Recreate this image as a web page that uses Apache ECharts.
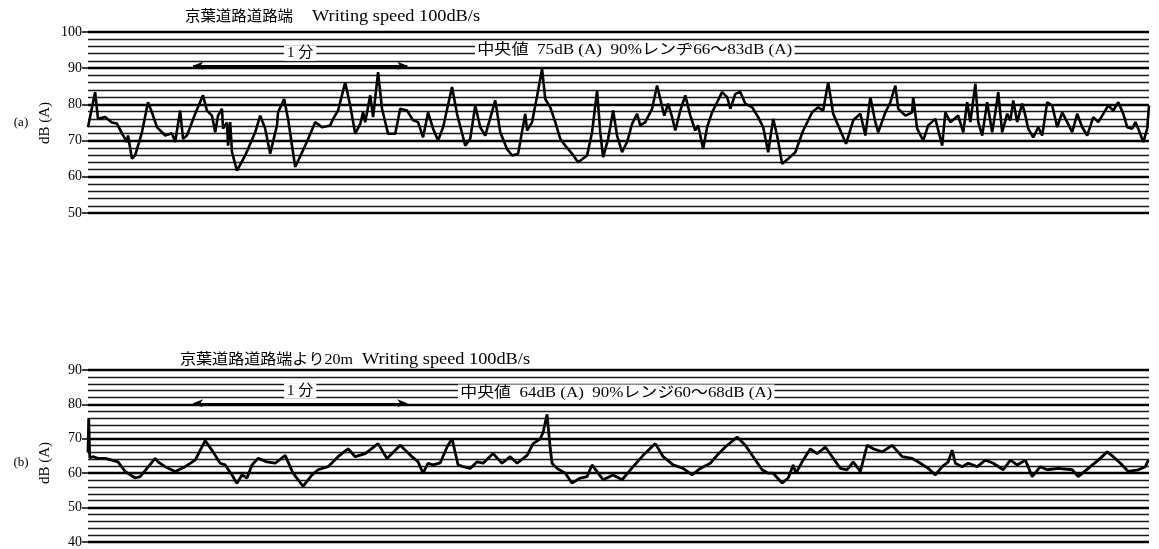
<!DOCTYPE html>
<html>
<head>
<meta charset="utf-8">
<script src="https://cdn.jsdelivr.net/npm/echarts@6/dist/echarts.min.js"></script>
<style>html,body{margin:0;padding:0;background:#fff;}#c{width:1159px;height:549px;}</style>
</head>
<body>
<div id="c"></div>
<script>
// ---- data (time in seconds, level in dB(A)) ----
const titleA = ['京葉道路道路端', 'Writing speed 100dB/s'];
const titleB = ['京葉道路道路端より20m', 'Writing speed 100dB/s'];
const noteA = '中央値  75dB (A)  90%レンヂ66〜83dB (A)';
const noteB = '中央値  64dB (A)  90%レンジ60〜68dB (A)';
const yTicksA = [50, 60, 70, 80, 90, 100];
const yTicksB = [40, 50, 60, 70, 80, 90];

const timeA = [0,2.0,2.8,4.8,6.7,8.1,9.5,10.9,11.2,12.3,13.2,15.1,16.8,17.9,19.3,21.6,23.5,24.4,25.8,26.6,27.7,30.0,32.2,33.3,34.7,35.6,36.4,37.5,37.8,38.9,39.2,39.8,40.3,41.7,44.0,46.8,48.2,49.6,51.0,52.9,53.2,54.9,56.0,58.0,60.8,63.6,65.5,67.8,68.6,70.0,72.0,73.4,74.8,76.2,77.0,77.6,79.0,79.8,81.2,82.3,84.0,86.0,87.4,89.3,91.0,92.4,93.8,95.2,96.6,98.0,99.4,101.9,103.3,105.6,107.0,108.4,109.8,111.2,114.0,115.4,117.3,118.7,120.4,122.4,122.9,124.3,125.2,126.0,127.1,128.0,129.4,130.8,132.2,133.6,135.5,137.2,139.7,141.1,142.5,143.4,144.2,145.6,147.0,148.1,149.5,150.9,152.3,153.7,154.6,156.0,157.9,159.3,160.2,161.3,162.4,163.5,164.4,165.8,167.2,168.6,170.0,170.8,172.2,173.3,174.7,176.1,177.5,178.9,179.8,181.2,182.6,184.0,185.9,187.6,189.0,190.4,191.8,192.9,194.3,196.0,198.0,200.2,202.7,204.4,205.8,207.2,208.6,210.0,212.2,214.2,216.2,217.6,219.0,220.4,221.2,223.2,224.6,226.0,226.8,228.8,230.7,231.0,232.1,233.8,235.2,237.2,239.1,240.0,241.4,243.6,245.0,246.1,247.0,248.4,249.2,250.3,251.7,253.1,254.0,254.8,255.9,257.3,258.2,259.0,260.1,261.5,262.4,263.2,264.6,266.0,267.1,268.5,269.9,271.3,272.7,274.1,275.5,276.9,278.3,279.7,281.4,282.8,284.2,285.6,287.0,288.4,289.8,290.9,292.3,293.2,294.0,295.4,296.5,297.0];
const levelA = [73.7,83.4,76,76.5,75,74.7,72,69.6,71.4,65,65.9,72.3,80.6,77.8,73.7,71.4,72,69.6,78.3,70.5,71.4,77.4,82.5,78.3,76.9,72.3,76.9,78.8,73.3,75,68.6,75.1,66.8,61.7,65.9,72.3,76.9,73.3,66.4,74.2,77.8,81.5,76,62.7,68.6,75.1,73.7,74.2,76,78.3,86.1,79.7,71.9,74.6,77.8,75.1,82.5,76.5,88.9,78.8,71.9,71.9,78.8,78.3,75.6,75.1,70.9,77.8,73.3,70,73.7,84.8,77.4,68.6,70.5,79.7,73.7,71.4,81.1,72.3,67.7,65.9,66.4,77.4,72.8,75.1,79.7,83.8,89.8,81.5,79.2,75.1,70.5,68.6,66.4,64,65.9,72.3,83.8,72.3,65.4,70.5,78.3,71.4,66.8,69.6,74.6,77.4,74.2,75.1,78.8,85.2,81.5,76.9,80.2,76.5,72.8,78.3,82.5,76.9,72.8,74.2,67.7,73.7,77.8,80.6,83.4,82,78.8,82.9,83.4,80.2,79.2,76.5,73.7,66.8,76,71.4,63.6,65,66.8,72.8,77.8,79.2,78.3,86.1,77.4,74.2,69.1,75.6,77.4,71.4,82,75.1,72.3,77.8,80.6,85.2,78.8,76.9,77.8,82,73.3,70,74.2,76,68.6,77.8,75.1,76.9,72.3,80.6,75.1,85.7,75.1,71.4,80.6,72.3,77.8,83.4,72.3,77.4,75.6,81.1,75.1,80.2,76.9,73.3,70.9,73.7,71.4,80.6,79.7,73.7,77.8,75.1,72.3,77.4,73.7,71.4,76.5,75.1,77.4,79.7,78.3,80.6,77.4,73.7,73.3,75.1,73.3,69.6,73.3,79.7];

const timeB = [0,0.2,0.5,1.5,2.8,4.8,6.7,8.4,10.4,13.2,14.6,16.5,18.8,19.6,21.6,24.4,27.2,30.0,32.8,35.0,37.0,38.4,40.3,41.7,43.1,44.5,45.9,47.6,50.1,52.4,55.2,57.4,60.2,62.7,64.4,67.2,70.0,72.8,74.8,77.6,81.2,83.7,87.4,90.7,92.4,93.8,95.2,96.6,98.6,100.5,101.9,103.6,105.0,107.0,108.9,110.6,113.4,115.9,118.2,120.1,122.9,124.6,126.6,127.4,128.5,129.4,129.9,131.3,133.6,135.5,137.8,139.7,141.1,142.8,144.2,147.0,149.5,152.6,155.4,158.8,161.0,163.8,166.6,169.1,171.4,174.2,176.1,178.4,181.7,184.0,186.2,188.7,190.4,191.8,194.3,196.0,197.4,198.2,199.9,202.2,204.1,206.4,208.3,210.6,212.5,214.2,216.2,218.1,219.8,222.3,225.1,227.9,230.7,233.0,235.2,237.2,239.1,240.8,241.9,242.8,244.7,246.4,248.9,251.2,253.4,256.2,258.2,260.1,262.4,264.3,266.6,268.5,271.6,275.5,277.2,280.0,282.8,285.3,287.0,289.0,291.2,294.0,296.0,296.8];
const levelB = [66,76,64.5,64.8,64.3,64.3,63.8,63.3,60.5,58.6,59,61.4,64.3,63.3,61.9,60.5,61.9,63.8,69.5,66.2,62.9,62.4,59.5,57.1,59.5,58.6,62.4,64.3,63.3,62.9,65.2,60,56.2,59.5,61,61.9,64.8,67.1,64.8,65.7,68.6,64.3,68.1,64.8,63.3,60,62.9,62.4,63,67.6,70,62.4,61.9,61.4,63.3,62.9,65.7,62.9,64.8,62.9,65.2,68.6,70,71.9,77.1,67.1,62.9,61.4,60,57.1,58.6,59,62.4,60,58.1,59.5,58.1,61.9,65.2,68.6,64.8,62.4,61.4,59.5,61.4,62.9,65.2,67.6,70.5,68.1,64.8,61,60,60,57.1,58.6,62.4,60,63.3,67.1,65.7,67.6,64.8,61.4,61,63.3,60.5,68.1,67.1,66.2,68.1,64.8,64.3,62.9,61.4,59.5,61.9,63.3,66.7,62.9,61.9,62.9,61.9,63.8,62.9,61,63.8,62.4,63.8,59,61.9,61,61.4,61,59,61.4,63.8,66.2,64.8,62.9,60.5,61,61.9,63.8];

// one-minute scale bars (start/end time, level)
const minuteA = [[29.4, 90.7], [89.4, 90.7]];
const minuteB = [[29.4, 80.3], [89.4, 80.3]];

const FONT = '"Liberation Serif", "DejaVu Serif", "Noto Sans CJK JP", serif';
const pairs = (t, v) => t.map((x, i) => [x, v[i]]);

const measureCtx = document.createElement('canvas').getContext('2d');
function fitText(str, x0, x1, yc, size, bg) {
  const font = size + 'px ' + FONT;
  measureCtx.font = font;
  const w = measureCtx.measureText(str).width || 1;
  const el = {type: 'text', x: x0, y: yc, z: 10, scaleX: (x1 - x0) / w,
    style: {text: str, font: font, fill: '#000', align: 'left', verticalAlign: 'middle'}};
  if (bg) { el.style.backgroundColor = '#fff'; el.style.padding = [1, 2]; }
  return el;
}

function yAxis(idx, min, max) {
  return {
    type: 'value', gridIndex: idx, min: min, max: max, interval: 10,
    axisLine: {show: false},
    axisTick: {show: true, length: 6, lineStyle: {color: '#000', width: 1.5}},
    axisLabel: {color: '#000', fontFamily: FONT, fontSize: 14, margin: 6},
    splitLine: {show: true, lineStyle: {color: '#000', width: 2.4}},
    minorTick: {show: false, splitNumber: 5},
    minorSplitLine: {show: true, lineStyle: {color: '#1a1a1a', width: 1.4}}
  };
}
function xAxis(idx) {
  return {type: 'value', gridIndex: idx, min: 0, max: 297,
    axisLine: {show: false}, axisTick: {show: false}, axisLabel: {show: false}, splitLine: {show: false}};
}
function minuteLine(coords) {
  return {
    silent: true, symbol: ['arrow', 'arrow'], symbolSize: [6, 10],
    lineStyle: {color: '#000', width: 2, type: 'solid'},
    label: {show: true, position: 'middle', formatter: '1 分', color: '#000', fontFamily: FONT,
      fontSize: 15, backgroundColor: '#fff', padding: [0, 3]},
    data: [[{coord: coords[0]}, {coord: coords[1]}]]
  };
}

const chart = echarts.init(document.getElementById('c'), null, {renderer: 'canvas'});
chart.setOption({
  backgroundColor: '#fff',
  animation: false,
  grid: [
    {left: 88, right: 10, top: 32, height: 181},
    {left: 88, right: 10, top: 370, height: 175}
  ],
  xAxis: [xAxis(0), xAxis(1)],
  yAxis: [yAxis(0, 50, 100), yAxis(1, 40, 90)],
  series: [
    {type: 'line', xAxisIndex: 0, yAxisIndex: 0, data: pairs(timeA, levelA), symbol: 'none',
      lineStyle: {color: '#000', width: 2.6}, markLine: minuteLine(minuteA)},
    {type: 'line', xAxisIndex: 1, yAxisIndex: 1, data: pairs(timeB, levelB), symbol: 'none',
      lineStyle: {color: '#000', width: 2.8}, markLine: minuteLine(minuteB)}
  ],
  graphic: [
    fitText(titleA[0], 185, 293, 17, 15, false),
    fitText(titleA[1], 312, 480, 17, 16, false),
    fitText(titleB[0], 180, 353, 360, 15, false),
    fitText(titleB[1], 362, 530, 360, 16, false),
    fitText(noteA, 475, 790, 50, 15, true),
    fitText(noteB, 458, 770, 393, 15, true),
    {type: 'text', x: 21, y: 123, style: {text: '(a)', font: '13px ' + FONT, fill: '#000', align: 'center', verticalAlign: 'middle'}},
    {type: 'text', x: 21, y: 463, style: {text: '(b)', font: '13px ' + FONT, fill: '#000', align: 'center', verticalAlign: 'middle'}},
    {type: 'text', x: 45, y: 123, rotation: Math.PI / 2, style: {text: 'dB (A)', font: '15px ' + FONT, fill: '#000', align: 'center', verticalAlign: 'middle'}},
    {type: 'text', x: 45, y: 463, rotation: Math.PI / 2, style: {text: 'dB (A)', font: '15px ' + FONT, fill: '#000', align: 'center', verticalAlign: 'middle'}}
  ]
});
</script>
</body>
</html>
